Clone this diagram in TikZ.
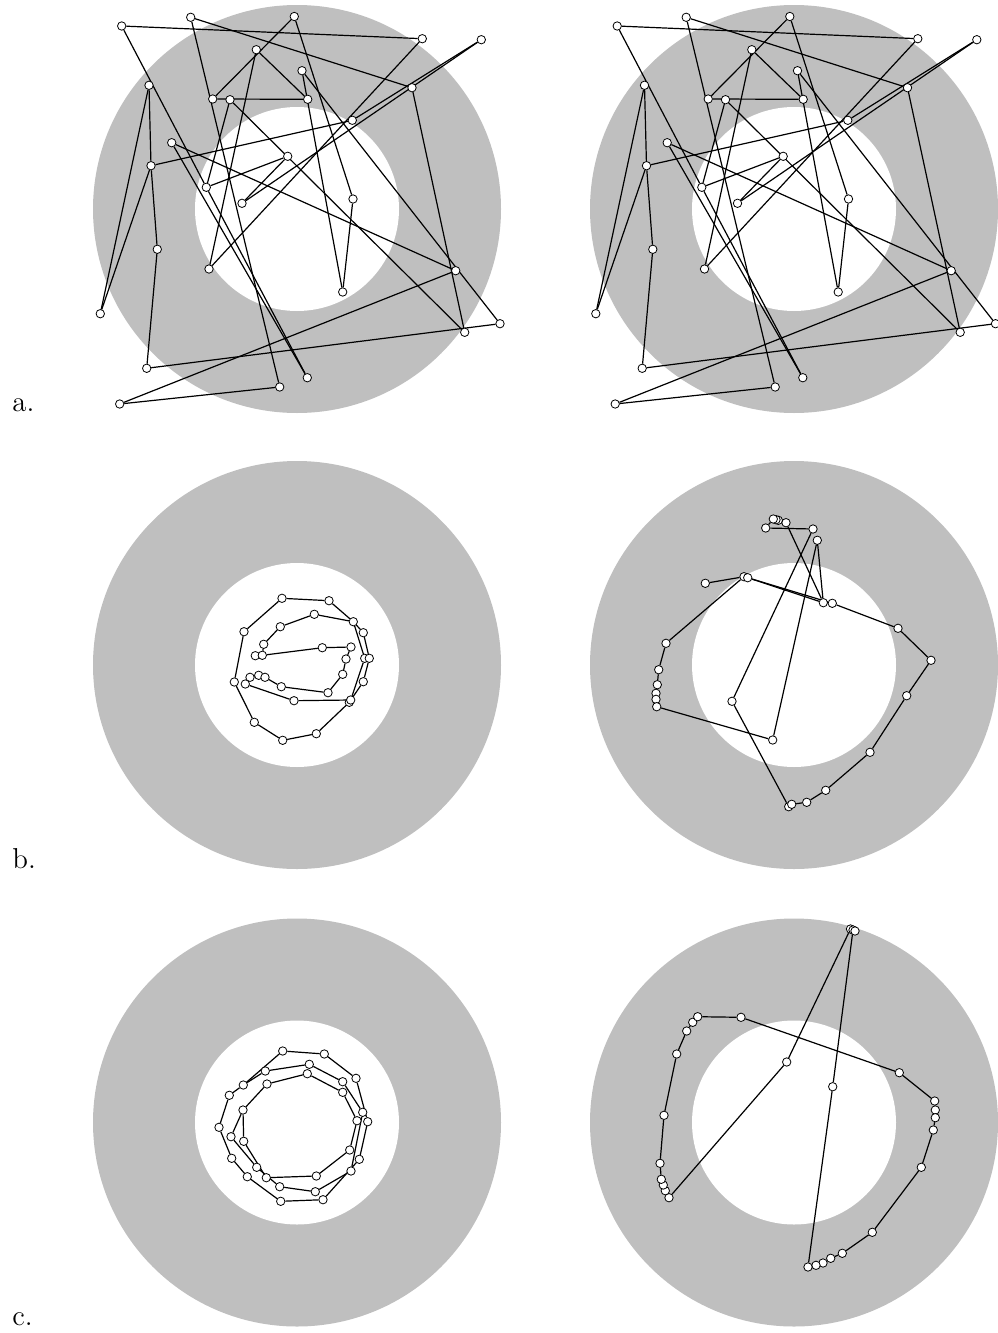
\documentclass[tikz,border=0pt]{standalone}
\definecolor{ringgray}{RGB}{191,191,191}
\pgfdeclarelayer{ring}
\pgfdeclarelayer{wire}
\pgfsetlayers{ring,wire,main}

% node positions, in pixels of the page
\def\ptsA{1/121.7/26, 2/190.7/17.3, 3/294.3/16.5, 4/422.3/38.7, 5/481.3/39.7,
  6/256.3/49.7, 7/302/70.7, 8/149/85.3, 9/412/87.7, 10/212.7/99,
  11/230/99.7, 12/307.7/99.3, 13/352.3/120.3, 14/171.7/142.7, 15/287.7/156.3,
  16/151/165.7, 17/206.3/187.3, 18/242/203.3, 19/353/199, 20/157.3/249.3,
  21/209/269, 22/342.7/292, 23/455.7/270.7, 24/100.3/313.7, 25/500/323.7,
  26/464.7/332.3, 27/146.7/368.3, 28/307.3/377.7, 29/279.7/387, 30/119.7/404}
\def\edgesA{1/4, 1/17, 17/28, 14/28, 14/23, 23/30, 29/30, 2/29, 2/9, 9/26,
  11/26, 3/10, 3/19, 19/22, 7/22, 7/25, 25/27, 20/27, 16/20, 8/16, 8/24,
  16/24, 13/16, 5/13, 5/18, 15/18, 15/17, 11/17, 6/12, 6/21, 4/21, 10/12}

\def\ptsB{1/282/598.3, 2/329/600.7, 3/314.3/614.3, 4/353.3/621.7, 5/363.3/632.7,
  6/280.3/626.7, 7/244/631.7, 8/263.7/644.3, 9/322.3/647.7, 10/351/647,
  11/255.3/655.7, 12/262.3/655.3, 13/346/659, 14/364.7/658.3, 15/369.3/658.3,
  16/342.7/674.3, 17/234.3/682, 18/250/677.3, 19/258.7/675.3, 20/265/677.3,
  21/245.3/684, 22/281.3/686.7, 23/363.3/681.7, 24/328/692.7, 25/294/700.7,
  26/349.3/702.3, 27/350.7/700, 28/254.3/722.3, 29/316.3/733.7, 30/282.7/740.3}
\def\edgesB{1/2, 1/7, 7/17, 17/28, 28/30, 30/29, 29/26, 2/4, 4/5, 5/15, 15/23,
  23/26, 3/4, 3/6, 6/8, 8/12, 11/12, 12/9, 9/10, 10/13, 13/16, 16/24, 24/22,
  22/20, 20/19, 19/18, 18/21, 21/25, 25/27, 27/14, 14/4}

\def\ptsBR{1/705.3/583.3, 2/744/576.7, 3/666/643.3, 4/658.7/669.7, 5/657.3/684.7,
  6/656/693.3, 7/656/699.3, 8/656.7/706.7, 9/772.7/740, 10/817.3/540.3,
  11/823.3/602.7, 12/786/522.7, 13/778.3/520.3, 14/776/519.7, 15/773.3/519,
  16/765.7/528, 17/813/529, 18/732/701.3, 19/788.7/806.7, 20/791.7/804.3,
  21/806.7/802.3, 22/825.7/790.3, 23/870/752.3, 24/906.7/695.7, 25/931/660.3,
  26/898/628.3, 27/832.3/603.3, 28/747.7/577.7}

\def\ptsC{1/282.7/1051, 2/324.3/1054, 3/356/1078.3, 4/367.7/1121.7, 5/359.3/1159.3,
  6/323/1199.7, 7/280.7/1201.3, 8/247.3/1176.7, 9/231.7/1158.3, 10/219/1127.3,
  11/229.3/1095.3, 12/243.3/1085, 13/265.3/1071, 14/309.3/1064.3, 15/342.7/1081.7,
  16/362.7/1112.3, 17/351/1171, 18/315.3/1191.7, 19/279.7/1186.7, 20/256.7/1167.3,
  21/231/1136.7, 22/243/1110, 23/267/1084, 24/307.3/1073.7, 25/342.7/1092.3,
  26/357/1120.7, 27/349.7/1150, 28/316.3/1176, 29/266.3/1177.7, 30/243.7/1141.3}

\def\ptsCR{1/850.5/929, 2/786.7/1062, 3/669/1197.7, 4/665.3/1190.7, 5/663.3/1185,
  6/661.3/1179.3, 7/660/1163.3, 8/664/1115.3, 9/676.7/1054, 10/686.7/1031,
  11/692.7/1022.3, 12/697.7/1016.7, 13/741/1017.3, 14/899.3/1072.7, 15/934.7/1101,
  16/935.3/1110, 17/935.3/1117.7, 18/933.3/1130, 19/921.3/1167.3, 20/872.3/1232.3,
  21/842.3/1253.3, 22/830.7/1258.3, 23/823/1263, 24/816/1265.3, 25/808/1267,
  26/832.7/1086.7, 27/853/930, 28/855/931}

\begin{document}
\begin{tikzpicture}[
    x=0.5pt, y=-0.5pt,
    dot/.style={circle, draw, fill=white, inner sep=0pt, minimum size=4.2pt, line width=0.4pt},
    wire/.style={line width=0.6pt},
    tag/.style={anchor=base west, inner sep=0pt, font=\Large},
  ]
  \useasboundingbox (0,0) rectangle (997,1333);

  % grey rings
  \begin{pgfonlayer}{ring}
    \foreach \cx in {297,794}
      \foreach \cy in {209,665,1122.5} {
        \fill[ringgray] (\cx,\cy) circle[radius=204];
        \fill[white] (\cx,\cy) circle[radius=102];
      }
  \end{pgfonlayer}

  % panel a, both sides
  \foreach \n/\x/\y in \ptsA {
    \node[dot] (aL\n) at (\x,\y) {};
    \node[dot] (aR\n) at (\x+495.5,\y) {};
  }
  % panel b
  \foreach \n/\x/\y in \ptsB
    \node[dot] (bL\n) at (\x,\y) {};
  \foreach \n/\x/\y in \ptsBR
    \node[dot] (bR\n) at (\x,\y) {};
  % panel c
  \foreach \n/\x/\y in \ptsC
    \node[dot] (cL\n) at (\x,\y) {};
  \foreach \n/\x/\y in \ptsCR
    \node[dot] (cR\n) at (\x,\y) {};

  \begin{pgfonlayer}{wire}
    \foreach \s/\t in \edgesA {
      \draw[wire] (aL\s) -- (aL\t);
      \draw[wire] (aR\s) -- (aR\t);
    }
    \foreach \s/\t in \edgesB
      \draw[wire] (bL\s) -- (bL\t);
    \foreach \s [evaluate=\s as \t using int(\s+1)] in {1,...,27}
      \draw[wire] (bR\s) -- (bR\t);
    \draw[wire] (bR28) -- (bR11);
    \foreach \s [evaluate=\s as \t using int(\s+1)] in {1,...,29}
      \draw[wire] (cL\s) -- (cL\t);
    \draw[wire] (cL1) -- (cL12) (cL22) -- (cL30);
    \foreach \s [evaluate=\s as \t using int(\s+1)] in {1,...,27}
      \draw[wire] (cR\s) -- (cR\t);
  \end{pgfonlayer}

  \node[tag] (la) at (12,411) {a.};
  \node[tag] (lb) at (12,868) {b.};
  \node[tag] (lc) at (12,1325) {c.};
\end{tikzpicture}
\end{document}
